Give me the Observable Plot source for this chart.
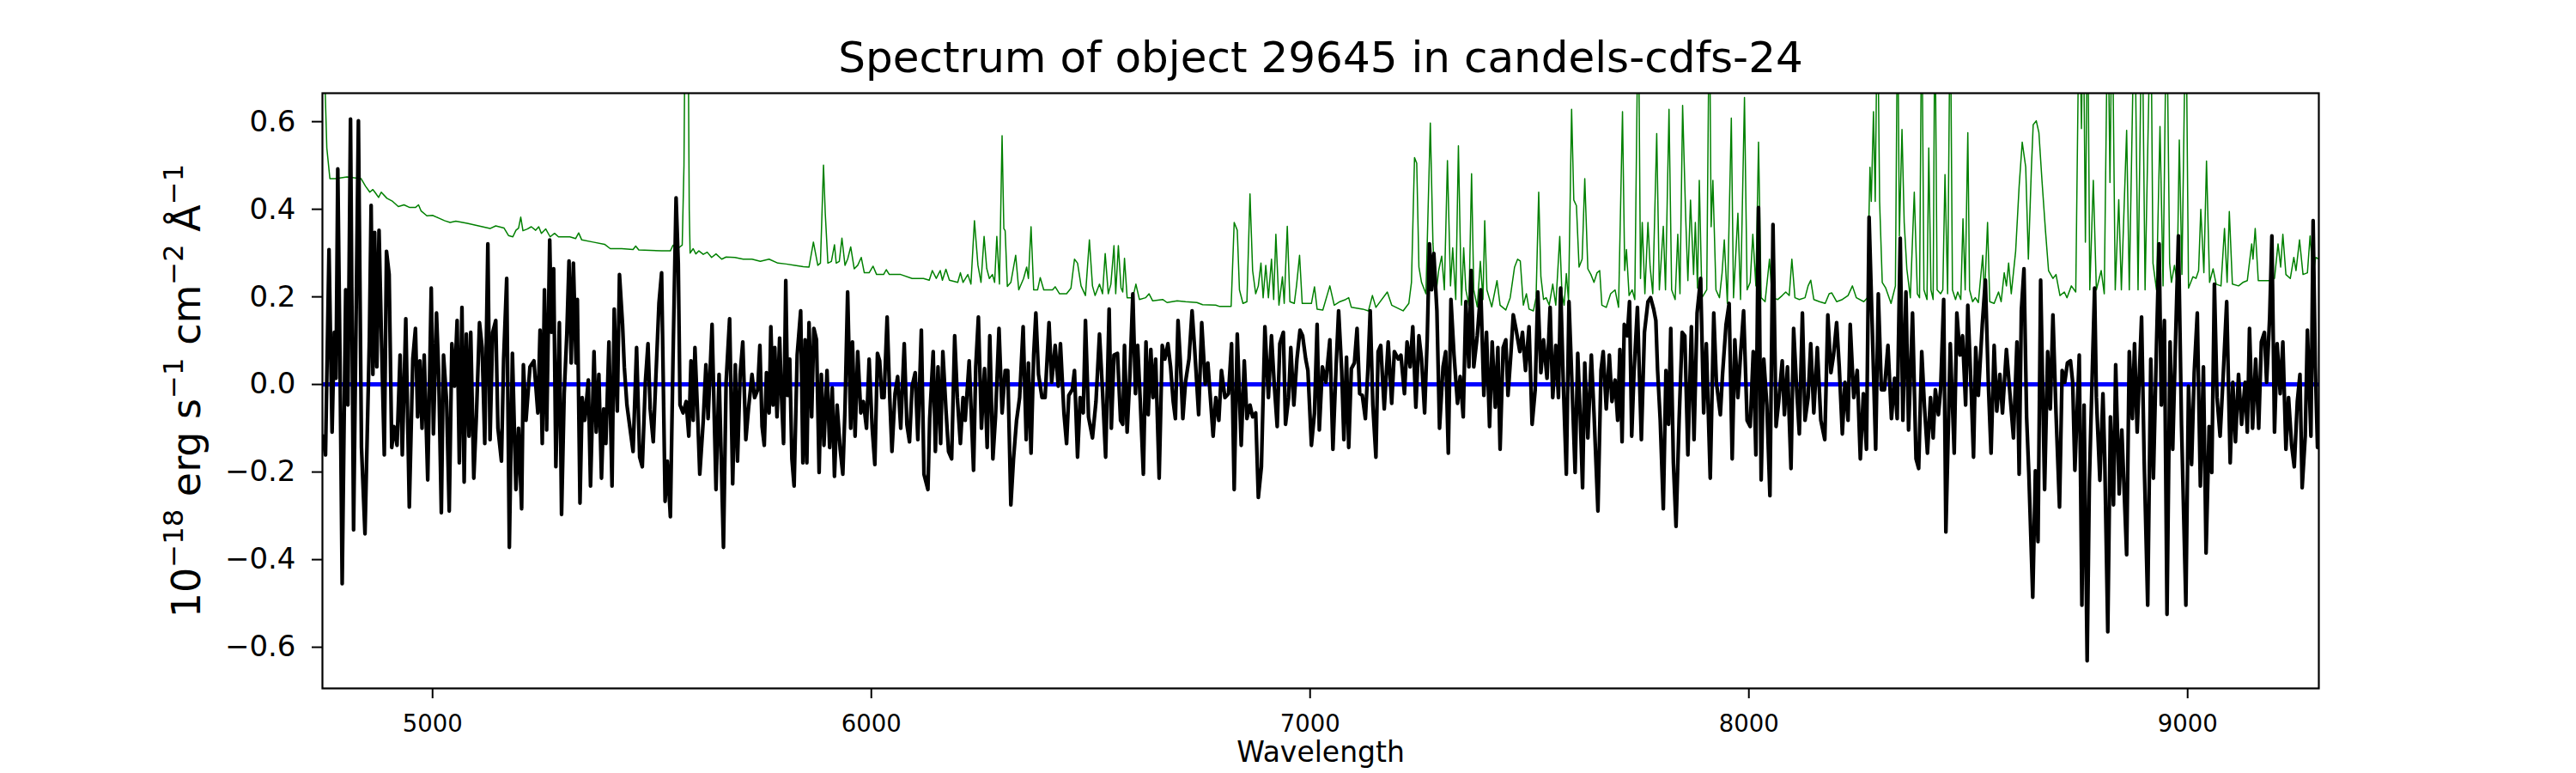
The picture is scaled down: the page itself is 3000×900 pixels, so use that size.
<!DOCTYPE html>
<html><head><meta charset="utf-8">
<script src="https://cdn.jsdelivr.net/npm/d3@7"></script>
<script src="https://cdn.jsdelivr.net/npm/@observablehq/plot@0.6"></script>
<style>body{margin:0;background:#fff} svg{font-family:"DejaVu Sans",sans-serif}</style>
</head><body><div id="chart"></div>
<script>
const titleText = "Spectrum of object 29645 in candels-cdfs-24";
const xLabel = "Wavelength";
// y label pieces: [text, isSuperscript]
const yLabelParts = [["10", false], ["−18", true], [" erg s", false], ["−1", true], [" cm", false], ["−2", true], [" Å", false], ["−1", true]];
const yLabel = yLabelParts.map(p => p[0]).join("");
const xTicks = [5000, 6000, 7000, 8000, 9000];
const yTicks = [-0.6, -0.4, -0.2, 0, 0.2, 0.4, 0.6];
const xDomain = [4749, 9299];
const yDomain = [-0.694, 0.665];

// observed flux [wavelength, flux]
const fluxPoints = [
[4750,-0.118],[4756,-0.161],[4764,0.308],[4771,-0.109],[4776,0.119],[4780,0.014],[4784,0.492],[4789,0.058],[4794,-0.455],[4802,0.216],
[4807,-0.047],[4813,0.606],[4820,-0.332],[4831,0.602],[4838,-0.144],[4846,-0.341],[4851,-0.118],[4856,0.102],[4860,0.409],[4864,0.023],
[4868,0.347],[4873,0.040],[4878,0.352],[4883,0.128],[4890,-0.161],[4895,0.304],[4901,0.251],[4907,-0.144],[4912,-0.096],[4919,-0.139],
[4926,0.067],[4931,-0.161],[4939,0.150],[4947,-0.280],[4955,0.058],[4961,0.128],[4966,-0.074],[4971,0.054],[4976,-0.100],[4981,0.067],
[4989,-0.218],[4997,0.220],[5002,-0.113],[5009,0.163],[5014,0.023],[5020,-0.293],[5025,0.067],[5032,-0.039],[5038,-0.289],[5044,0.093],
[5050,-0.004],[5056,0.146],[5061,-0.179],[5067,0.176],[5072,-0.223],[5077,0.115],[5083,-0.118],[5087,0.119],[5094,-0.214],[5100,-0.069],
[5107,0.141],[5113,0.084],[5119,-0.135],[5126,0.321],[5131,-0.126],[5137,0.119],[5144,0.146],[5149,-0.100],[5157,-0.175],[5162,0.058],
[5169,0.242],[5175,-0.372],[5182,0.071],[5190,-0.240],[5196,-0.100],[5203,-0.284],[5207,0.045],[5213,-0.082],[5222,0.040],[5231,0.054],
[5240,-0.065],[5245,0.124],[5250,-0.135],[5255,0.216],[5260,-0.104],[5267,0.330],[5271,0.119],[5276,0.264],[5281,-0.188],[5289,0.141],
[5294,-0.297],[5300,-0.021],[5306,0.115],[5311,0.282],[5316,0.049],[5321,0.277],[5327,0.049],[5330,0.194],[5336,-0.271],[5341,-0.030],
[5347,-0.082],[5355,0.010],[5360,-0.232],[5368,0.075],[5373,-0.109],[5379,0.023],[5385,-0.214],[5390,-0.056],[5395,-0.135],[5402,0.097],
[5409,-0.232],[5414,0.172],[5421,-0.061],[5426,0.251],[5433,0.137],[5437,0.040],[5443,-0.047],[5450,-0.100],[5457,-0.153],[5465,0.084],
[5472,-0.166],[5478,-0.188],[5485,0.005],[5491,0.093],[5496,-0.056],[5503,-0.131],[5509,0.018],[5516,0.185],[5522,0.255],[5530,-0.267],
[5535,-0.175],[5542,-0.302],[5548,0.058],[5555,0.426],[5560,0.277],[5564,-0.047],[5571,-0.065],[5578,-0.039],[5584,-0.118],[5589,0.054],
[5594,-0.082],[5598,0.084],[5604,-0.065],[5609,-0.205],[5617,-0.082],[5623,0.045],[5628,-0.078],[5637,0.137],[5646,-0.240],[5653,0.023],
[5663,-0.372],[5669,0.005],[5677,0.150],[5684,-0.227],[5690,0.045],[5695,-0.175],[5701,0.023],[5707,0.097],[5714,-0.126],[5720,-0.056],
[5728,0.023],[5734,-0.030],[5741,-0.012],[5746,0.089],[5751,-0.096],[5756,-0.139],[5761,0.027],[5767,-0.065],[5771,0.132],[5776,-0.047],
[5780,0.084],[5785,-0.074],[5791,0.106],[5795,-0.021],[5800,-0.135],[5805,0.237],[5809,-0.025],[5814,0.058],[5819,-0.170],[5824,-0.232],
[5831,0.067],[5839,0.168],[5844,-0.179],[5849,0.102],[5853,-0.179],[5858,0.141],[5864,-0.074],[5869,0.128],[5875,0.102],[5881,-0.201],
[5886,0.023],[5892,-0.139],[5899,0.032],[5905,-0.144],[5911,-0.008],[5916,-0.210],[5922,-0.047],[5929,-0.148],[5935,-0.205],[5940,-0.056],
[5946,0.211],[5953,-0.100],[5957,0.097],[5963,-0.118],[5969,0.075],[5976,-0.065],[5982,-0.039],[5989,-0.100],[5995,0.058],[6002,-0.100],
[6008,-0.183],[6014,0.071],[6019,0.054],[6024,-0.030],[6029,-0.030],[6036,0.154],[6042,-0.030],[6047,-0.153],[6054,-0.021],[6060,0.018],
[6067,-0.100],[6075,0.093],[6081,-0.091],[6087,-0.131],[6093,-0.004],[6100,0.027],[6106,-0.126],[6114,0.124],[6120,-0.205],[6129,-0.240],
[6133,-0.078],[6141,0.075],[6146,-0.153],[6152,0.040],[6158,-0.135],[6163,0.075],[6170,-0.056],[6176,-0.153],[6183,-0.170],[6190,0.111],
[6196,-0.030],[6203,-0.135],[6209,-0.030],[6214,-0.082],[6223,0.054],[6233,-0.196],[6238,0.040],[6244,0.154],[6251,-0.100],[6258,0.036],
[6264,-0.144],[6270,0.111],[6277,-0.170],[6283,-0.074],[6291,0.128],[6298,-0.065],[6305,0.032],[6311,0.032],[6318,-0.275],[6324,-0.170],
[6331,-0.082],[6338,-0.030],[6346,0.132],[6353,-0.126],[6358,0.049],[6364,-0.157],[6370,0.067],[6375,0.163],[6381,0.023],[6389,-0.030],
[6396,-0.030],[6405,0.141],[6411,0.005],[6419,0.089],[6426,-0.004],[6431,0.093],[6439,-0.065],[6445,-0.135],[6450,-0.025],[6458,-0.012],
[6463,0.032],[6470,-0.166],[6476,-0.030],[6483,-0.065],[6488,0.146],[6495,-0.074],[6504,-0.122],[6512,-0.039],[6520,0.115],[6527,-0.017],
[6534,-0.166],[6542,0.172],[6547,-0.100],[6553,0.067],[6561,0.071],[6568,-0.082],
[6573,-0.091],[6577,0.089],[6583,-0.109],[6589,0.014],[6596,0.207],[6602,-0.021],[6607,0.089],[6613,-0.039],[6620,-0.205],[6626,0.097],
[6631,-0.069],[6637,0.080],[6642,-0.030],[6648,0.058],[6656,-0.214],[6663,0.089],[6669,0.058],[6676,0.093],[6682,0.040],[6688,-0.039],
[6693,-0.078],[6699,0.146],[6704,0.058],[6710,-0.078],[6716,0.005],[6724,0.058],[6731,0.168],[6737,0.080],[6746,-0.069],[6753,0.141],
[6761,0.001],[6767,0.049],[6774,-0.047],[6779,-0.118],[6785,-0.030],[6792,-0.082],[6798,0.032],[6806,-0.030],[6814,-0.021],[6821,0.093],
[6827,-0.240],[6834,0.115],[6843,-0.139],[6850,0.054],[6856,-0.078],[6863,-0.047],[6869,-0.074],[6876,-0.065],[6882,-0.258],[6889,-0.188],
[6897,0.132],[6905,-0.030],[6912,0.111],[6918,0.005],[6925,-0.096],[6931,0.093],[6939,0.119],[6944,-0.091],[6951,-0.030],[6956,0.084],
[6963,-0.047],[6970,0.058],[6977,0.124],[6983,0.111],[6990,0.058],[6995,0.032],[7003,-0.139],[7010,-0.065],[7016,0.137],[7021,-0.104],
[7028,0.040],[7036,0.005],[7045,0.102],[7052,-0.148],[7059,0.036],[7065,0.168],[7072,0.032],[7077,-0.126],[7083,0.062],[7088,-0.144],
[7094,0.036],[7101,0.049],[7107,0.128],[7113,-0.021],[7119,-0.025],[7126,-0.078],[7132,0.040],[7137,0.168],[7143,-0.047],[7150,-0.166],
[7155,0.075],[7161,0.089],[7169,-0.056],[7178,0.097],[7186,-0.043],[7192,0.075],[7201,0.058],[7207,0.067],[7215,-0.021],[7221,0.097],
[7228,0.040],[7234,0.132],[7241,-0.052],[7248,0.111],[7254,0.058],[7261,-0.065],[7267,0.106],[7272,0.321],[7277,0.216],[7282,0.299],
[7289,0.168],[7295,-0.100],[7303,0.040],[7309,0.075],[7315,-0.157],[7321,0.194],[7328,0.067],[7336,-0.043],[7342,0.018],[7349,-0.074],
[7355,0.189],[7362,0.040],[7367,0.260],[7373,0.040],[7381,0.111],[7389,0.216],[7396,-0.025],[7402,0.119],[7409,-0.096],[7415,0.097],
[7422,-0.052],[7428,0.084],[7433,-0.148],[7440,0.084],[7446,0.102],[7451,-0.025],[7458,0.075],[7463,0.159],[7469,0.128],[7478,0.075],
[7484,0.119],[7491,0.032],[7499,0.132],[7506,-0.091],[7513,-0.012],[7519,0.211],[7526,0.027],[7532,0.102],[7540,0.014],[7547,0.176],
[7553,-0.030],[7560,0.089],[7566,-0.030],[7571,0.220],[7577,0.005],[7584,-0.205],[7590,0.189],[7597,-0.004],[7604,-0.201],[7610,0.071],
[7616,-0.082],[7621,-0.236],[7626,0.049],[7633,-0.122],[7641,0.067],[7647,-0.065],[7656,-0.289],[7663,0.032],[7668,0.075],[7675,-0.056],
[7682,0.067],[7688,-0.039],[7695,0.010],[7701,-0.082],[7706,0.080],[7711,-0.131],[7716,0.137],[7723,0.111],[7728,0.189],[7733,-0.118],
[7738,0.023],[7746,0.176],[7755,-0.126],[7762,0.119],[7770,0.189],[7776,0.198],[7783,0.172],[7788,0.146],[7792,0.032],[7798,-0.082],
[7805,-0.284],[7811,0.032],[7817,-0.091],[7822,0.128],[7828,-0.179],[7834,-0.324],[7841,-0.082],[7848,0.119],[7854,0.111],[7861,-0.161],
[7869,0.132],[7875,-0.126],[7882,0.163],[7890,0.242],[7897,-0.065],[7903,0.093],[7912,-0.214],[7920,0.163],[7926,0.005],[7935,-0.069],
[7940,0.023],[7948,0.137],[7955,0.185],[7962,-0.170],[7968,0.102],[7975,-0.030],[7981,0.067],[7988,0.168],[7996,-0.082],[8003,-0.096],
[8010,0.075],[8016,-0.161],[8022,0.404],[8028,-0.218],[8034,0.058],[8041,-0.047],[8048,-0.254],[8055,0.365],[8062,-0.096],[8068,-0.039],
[8076,0.054],[8081,-0.069],[8088,0.040],[8096,-0.192],[8102,0.128],[8109,-0.012],[8115,-0.113],[8122,0.163],[8128,-0.082],[8135,-0.030],
[8141,0.093],[8148,-0.065],[8156,0.084],[8164,-0.082],[8173,-0.126],[8180,0.159],[8187,0.027],[8193,0.067],[8200,0.141],[8206,0.040],
[8213,-0.113],[8219,0.005],[8226,-0.082],[8231,0.137],[8239,-0.030],[8247,0.032],[8254,-0.170],[8261,-0.021],[8268,-0.148],[8274,0.382],
[8281,0.137],[8289,-0.148],[8295,0.207],[8302,-0.012],[8309,-0.012],[8317,0.089],[8325,-0.078],[8332,0.014],[8338,-0.078],[8345,0.334],
[8351,-0.082],[8358,0.211],[8364,-0.104],[8373,0.163],[8381,-0.170],
[8387,-0.192],[8394,0.075],[8400,-0.047],[8407,-0.157],[8414,-0.030],[8420,-0.122],[8425,-0.012],[8432,-0.069],[8437,-0.012],[8444,0.194],
[8449,-0.337],[8455,-0.082],[8459,0.093],[8468,-0.157],[8474,0.163],[8481,0.067],[8487,0.111],[8494,-0.047],[8499,0.181],[8507,-0.021],
[8512,-0.166],[8517,0.084],[8523,-0.025],[8532,0.137],[8539,0.238],[8546,-0.004],[8552,-0.157],[8559,0.089],[8565,-0.061],[8572,0.023],
[8578,-0.065],[8587,0.080],[8593,0.005],[8603,-0.122],[8611,0.097],[8616,-0.205],[8621,0.168],[8627,0.264],[8633,-0.074],[8638,-0.201],
[8647,-0.486],[8653,-0.197],[8659,-0.359],[8665,0.238],[8674,-0.240],[8681,0.075],[8687,-0.056],[8693,0.159],[8700,-0.065],[8708,-0.280],
[8714,0.032],[8720,0.005],[8726,0.049],[8733,0.054],[8738,0.005],[8743,-0.196],[8753,0.067],[8759,-0.504],[8764,-0.047],[8771,-0.631],
[8776,-0.223],[8783,0.040],[8788,0.220],[8792,-0.030],[8800,-0.219],[8807,-0.021],[8811,-0.166],[8818,-0.565],[8824,-0.074],[8831,-0.275],
[8836,0.045],[8844,-0.250],[8850,-0.104],[8861,-0.389],[8867,0.075],[8874,-0.078],[8879,0.093],[8885,-0.109],[8895,0.154],[8901,-0.175],
[8909,-0.504],[8916,0.058],[8922,-0.214],[8929,0.089],[8935,0.321],[8940,-0.047],[8947,0.146],[8953,-0.525],[8960,0.097],[8966,-0.148],
[8972,0.084],[8979,0.339],[8986,-0.091],[8996,-0.504],[9002,-0.004],[9009,-0.183],[9015,0.027],[9022,0.163],[9029,-0.232],[9036,0.040],
[9042,-0.385],[9049,-0.096],[9055,-0.201],[9061,0.229],[9067,-0.030],[9074,-0.118],[9081,0.018],[9089,0.189],[9097,-0.179],[9103,0.005],
[9109,-0.131],[9116,0.023],[9123,-0.091],[9131,0.005],[9136,-0.109],[9141,0.128],[9148,-0.100],[9155,0.058],[9162,-0.100],[9168,0.097],
[9175,0.119],[9180,0.005],[9187,0.154],[9192,0.339],[9198,-0.109],[9204,0.093],[9211,-0.021],[9217,0.097],[9224,-0.148],[9230,-0.030],
[9237,-0.139],[9243,-0.188],[9250,-0.039],[9256,0.023],[9261,-0.236],[9268,-0.118],[9273,0.124],[9281,-0.118],[9286,0.374],[9291,0.040],
[9296,-0.144]
];

// sky / error spectrum [wavelength, flux]
const skyPoints = [
[4749,0.9],[4753,0.75],[4759,0.540],[4766,0.470],[4779,0.470],[4805,0.474],[4837,0.470],[4847,0.453],[4857,0.439],[4864,0.445],
[4870,0.437],[4877,0.427],[4883,0.439],[4896,0.425],[4909,0.418],[4922,0.406],[4935,0.410],[4948,0.404],[4961,0.404],[4968,0.410],
[4974,0.396],[4987,0.385],[5000,0.386],[5014,0.380],[5027,0.374],[5040,0.370],[5053,0.373],[5079,0.368],[5105,0.362],[5131,0.356],
[5144,0.362],[5163,0.357],[5173,0.340],[5183,0.337],[5190,0.352],[5196,0.357],[5201,0.382],[5206,0.351],[5216,0.355],[5225,0.360],
[5235,0.352],[5242,0.360],[5248,0.345],[5258,0.355],[5268,0.337],[5278,0.345],[5287,0.337],[5313,0.337],[5326,0.333],[5333,0.346],
[5340,0.330],[5366,0.325],[5392,0.320],[5405,0.310],[5431,0.310],[5457,0.308],[5463,0.316],[5470,0.307],[5496,0.306],[5522,0.305],
[5542,0.305],[5548,0.318],[5561,0.312],[5569,0.318],[5573,0.5],[5576,0.9],[5582,0.9],[5585,0.4],[5587,0.300],[5594,0.310],
[5600,0.298],[5607,0.305],[5617,0.297],[5626,0.302],[5636,0.290],[5646,0.298],[5659,0.286],
[5669,0.291],[5689,0.290],[5708,0.286],[5728,0.286],[5747,0.281],[5767,0.286],[5787,0.277],[5806,0.275],[5826,0.272],[5845,0.269],
[5858,0.268],[5868,0.325],[5878,0.272],[5884,0.277],[5891,0.501],[5895,0.391],[5901,0.277],[5909,0.281],[5916,0.319],[5920,0.277],
[5927,0.281],[5933,0.334],[5940,0.272],[5946,0.286],[5953,0.314],[5961,0.264],[5969,0.272],[5977,0.290],[5984,0.255],[5995,0.255],
[6004,0.270],[6012,0.251],[6028,0.251],[6034,0.262],[6041,0.251],[6067,0.251],[6093,0.242],[6119,0.242],[6132,0.238],[6139,0.260],
[6148,0.242],[6157,0.260],[6162,0.238],[6170,0.263],[6178,0.238],[6197,0.233],[6203,0.255],[6209,0.233],[6220,0.251],[6227,0.229],
[6235,0.374],[6243,0.272],[6250,0.233],[6257,0.338],[6263,0.265],[6269,0.242],[6276,0.251],[6281,0.233],[6286,0.338],[6292,0.229],
[6298,0.568],[6302,0.356],[6305,0.351],[6310,0.224],[6318,0.233],[6329,0.295],[6336,0.216],[6347,0.242],[6354,0.268],[6358,0.242],
[6364,0.360],[6370,0.216],[6379,0.216],[6385,0.244],[6393,0.216],[6413,0.216],[6419,0.223],[6429,0.207],[6445,0.207],[6455,0.220],
[6463,0.286],[6470,0.277],[6478,0.225],[6488,0.203],[6497,0.330],[6504,0.225],[6510,0.203],[6520,0.229],[6527,0.207],[6533,0.299],
[6540,0.207],[6546,0.229],[6553,0.317],[6557,0.207],[6563,0.317],[6569,0.221],
[6573,0.211],[6577,0.288],[6583,0.198],[6596,0.198],[6603,0.229],[6611,0.194],[6625,0.198],[6633,0.207],[6641,0.191],[6664,0.194],
[6674,0.187],[6697,0.191],[6716,0.189],[6742,0.187],[6755,0.182],[6785,0.181],[6794,0.178],[6820,0.178],[6827,0.370],[6834,0.352],
[6839,0.216],[6847,0.185],[6856,0.189],[6863,0.435],[6869,0.260],[6876,0.207],[6882,0.225],[6888,0.277],[6893,0.198],[6899,0.272],
[6905,0.198],[6912,0.286],[6917,0.194],[6922,0.343],[6929,0.181],[6937,0.246],[6941,0.185],[6948,0.361],[6954,0.189],[6964,0.185],
[6969,0.225],[6976,0.295],[6982,0.185],[7003,0.185],[7010,0.223],[7016,0.172],[7029,0.170],[7045,0.225],[7055,0.181],[7068,0.189],
[7081,0.194],[7088,0.198],[7094,0.176],[7120,0.172],[7133,0.168],[7142,0.203],[7150,0.176],[7176,0.211],[7186,0.181],[7212,0.168],
[7225,0.185],[7231,0.233],[7238,0.518],[7243,0.505],[7248,0.268],[7254,0.233],[7264,0.207],[7274,0.597],[7280,0.321],[7287,0.207],
[7293,0.260],[7300,0.293],[7306,0.216],[7313,0.511],[7320,0.225],[7325,0.312],[7332,0.194],[7338,0.545],[7345,0.181],[7350,0.312],
[7355,0.216],[7362,0.181],[7368,0.481],[7373,0.216],[7381,0.177],[7388,0.281],[7394,0.194],[7398,0.374],[7403,0.216],[7414,0.177],
[7426,0.237],[7433,0.181],[7446,0.170],[7456,0.198],[7466,0.268],[7473,0.286],[7479,0.282],
[7486,0.181],[7493,0.207],[7499,0.172],[7509,0.168],[7515,0.198],[7521,0.439],[7526,0.246],[7532,0.194],[7538,0.198],[7545,0.181],
[7553,0.229],[7560,0.181],[7569,0.338],[7574,0.207],[7579,0.181],[7584,0.253],[7589,0.191],[7596,0.628],[7601,0.421],[7607,0.408],
[7613,0.268],[7620,0.286],[7626,0.470],[7633,0.264],[7640,0.251],[7647,0.233],[7654,0.255],[7660,0.260],[7665,0.181],[7675,0.176],
[7685,0.207],[7695,0.216],[7703,0.176],[7712,0.623],[7717,0.260],[7721,0.308],[7727,0.203],[7734,0.216],[7740,0.194],[7748,0.9],
[7753,0.242],[7757,0.370],[7763,0.207],[7770,0.370],[7775,0.268],[7781,0.207],[7790,0.573],[7796,0.216],[7805,0.361],[7810,0.216],
[7818,0.628],[7824,0.216],[7832,0.194],[7838,0.343],[7843,0.207],[7849,0.637],[7856,0.382],[7861,0.237],[7867,0.421],[7874,0.251],
[7878,0.370],[7883,0.220],[7887,0.466],[7893,0.198],[7904,0.216],[7910,0.9],[7914,0.360],[7918,0.466],[7925,0.216],[7933,0.198],
[7939,0.255],[7944,0.330],[7951,0.185],[7960,0.608],[7965,0.198],[7975,0.391],[7981,0.194],[7990,0.655],[7996,0.216],[8003,0.233],
[8009,0.343],[8016,0.225],[8022,0.553],[8028,0.198],[8037,0.189],[8047,0.286],[8053,0.198],[8066,0.194],[8076,0.203],[8084,0.211],
[8092,0.203],[8098,0.286],[8105,0.198],[8115,0.194],[8128,0.198],[8135,0.225],[8141,0.238],[8148,0.194],[8161,0.189],[8174,0.185],
[8183,0.207],[8189,0.209],[8200,0.189],[8213,0.194],[8226,0.203],[8236,0.225],[8245,0.198],[8262,0.189],[8270,0.198],[8276,0.496],
[8279,0.418],[8284,0.623],[8288,0.418],[8293,0.9],[8298,0.418],[8304,0.233],[8312,0.220],[8324,0.185],[8334,0.225],[8339,0.9],
[8343,0.339],[8349,0.582],[8354,0.370],[8360,0.264],[8368,0.198],[8377,0.439],[8384,0.207],[8389,0.198],
[8394,0.9],[8399,0.216],[8406,0.194],[8410,0.540],[8415,0.216],[8420,0.194],[8424,0.9],[8429,0.216],[8437,0.207],[8442,0.216],
[8447,0.479],[8453,0.207],[8459,0.9],[8464,0.216],[8471,0.194],[8476,0.211],[8483,0.194],[8488,0.378],[8493,0.216],[8499,0.575],
[8503,0.216],[8510,0.189],[8516,0.198],[8523,0.187],[8533,0.295],[8537,0.198],[8544,0.370],[8549,0.189],[8559,0.185],[8569,0.211],
[8575,0.189],[8582,0.255],[8587,0.225],[8592,0.277],[8598,0.207],[8608,0.304],[8616,0.453],[8623,0.553],[8631,0.496],[8637,0.286],
[8644,0.496],[8648,0.593],[8655,0.602],[8661,0.575],[8668,0.466],[8676,0.351],[8683,0.260],[8693,0.242],[8700,0.251],[8709,0.203],
[8719,0.211],[8725,0.198],[8735,0.225],[8745,0.211],[8753,0.9],[8758,0.584],[8762,0.9],[8767,0.325],[8772,0.9],[8777,0.216],
[8785,0.466],[8792,0.216],[8803,0.260],[8810,0.207],[8818,0.9],[8823,0.461],[8828,0.9],[8835,0.216],[8843,0.422],[8849,0.216],
[8861,0.580],[8867,0.216],[8879,0.9],[8887,0.216],[8896,0.9],[8903,0.216],[8916,0.9],[8921,0.277],[8929,0.216],[8937,0.589],
[8944,0.225],[8952,0.9],[8959,0.277],[8963,0.233],[8970,0.272],[8976,0.233],[8981,0.558],[8987,0.251],[8996,0.9],[9002,0.220],
[9012,0.246],[9019,0.242],[9025,0.260],[9030,0.400],[9037,0.255],[9043,0.510],[9050,0.233],[9058,0.264],[9065,0.229],[9076,0.225],
[9084,0.356],[9090,0.233],[9095,0.395],[9102,0.229],[9116,0.225],[9126,0.233],[9136,0.237],[9146,0.321],[9149,0.286],[9154,0.356],
[9161,0.237],[9175,0.237],[9188,0.237],[9198,0.242],[9206,0.321],[9212,0.268],[9217,0.343],[9224,0.251],[9234,0.242],[9242,0.290],
[9247,0.260],[9255,0.330],[9263,0.251],[9273,0.255],[9279,0.339],[9286,0.251],[9292,0.290],[9299,0.286]
];

// model / zero line [wavelength, flux]
const zeroPoints = [[4752, 0], [9295, 0]];

const toRows = pts => pts.map(([w, f]) => ({w, f}));
const flux = toRows(fluxPoints);
const sky = toRows(skyPoints);
const zero = toRows(zeroPoints);

const yLabelSize = 46;

const chart = Plot.plot({
  width: 3000,
  height: 900,
  marginLeft: 375,
  marginRight: 300,
  marginTop: 108,
  marginBottom: 99,
  style: {fontFamily: "'DejaVu Sans', sans-serif", background: "white", color: "black", overflow: "visible"},
  x: {domain: xDomain},
  y: {domain: yDomain},
  marks: [
    Plot.line(sky, {x: "w", y: "f", stroke: "#008000", strokeWidth: 1.5, clip: true}),
    Plot.line(zero, {x: "w", y: "f", stroke: "#0000ff", strokeWidth: 5, clip: true}),
    Plot.line(flux, {x: "w", y: "f", stroke: "black", strokeWidth: 4.3, strokeLinejoin: "round", clip: true}),
    Plot.frame({stroke: "black", strokeWidth: 2.2}),
    Plot.axisX({ticks: xTicks, tickFormat: d3.format("d"), tickSize: 12, tickPadding: 19, fontSize: 27.5, strokeWidth: 2, label: null}),
    Plot.axisY({ticks: yTicks, tickFormat: d3.format(".1f"), tickSize: 12, tickPadding: 19, fontSize: 34, strokeWidth: 2, label: null}),
    Plot.text([titleText], {text: d => d, frameAnchor: "top", textAnchor: "middle", lineAnchor: "bottom", dy: -25, fontSize: 50}),
    Plot.text([xLabel], {text: d => d, frameAnchor: "bottom", textAnchor: "middle", lineAnchor: "bottom", dy: 85, fontSize: 33}),
    Plot.text([yLabel], {text: d => d, frameAnchor: "left", textAnchor: "middle", lineAnchor: "bottom", rotate: -90, dx: -143, fontSize: yLabelSize})
  ]
});

// rebuild the y label with real superscripts
d3.select(chart).selectAll("text").filter(function () { return this.textContent === yLabel; }).each(function () {
  const t = d3.select(this);
  t.text(null);
  let raised = false;
  const shift = yLabelSize * 0.42;
  yLabelParts.forEach(([s, sup]) => {
    const span = t.append("tspan").text(s);
    if (sup && !raised) { span.attr("dy", -shift).attr("font-size", yLabelSize * 0.7); raised = true; }
    else if (sup) { span.attr("font-size", yLabelSize * 0.7); }
    else if (!sup && raised) { span.attr("dy", shift); raised = false; }
  });
});

document.getElementById("chart").appendChild(chart);
</script>
</body></html>
